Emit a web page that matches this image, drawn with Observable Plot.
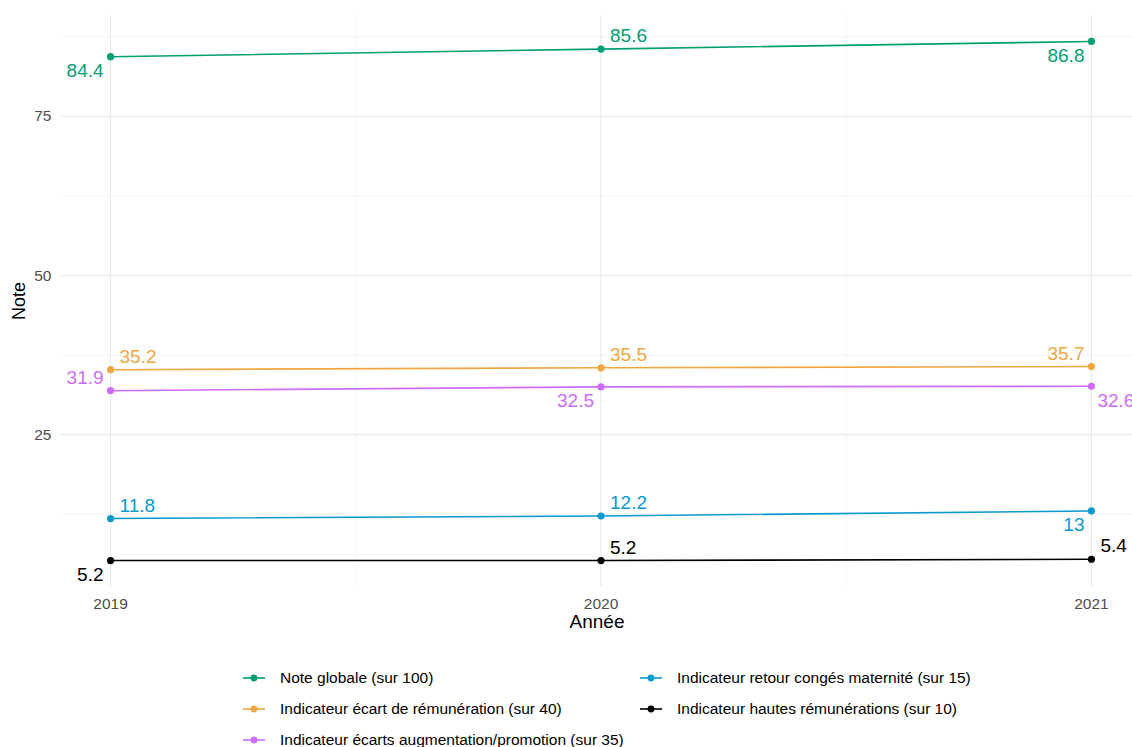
<!DOCTYPE html>
<html>
<head>
<meta charset="utf-8">
<script src="https://cdn.jsdelivr.net/npm/d3@7"></script>
<script src="https://cdn.jsdelivr.net/npm/@observablehq/plot@0.6"></script>
<style>
  html, body { margin: 0; padding: 0; background: #fff; overflow: hidden; }
  body { width: 1132px; height: 747px; font-family: "Liberation Sans", Arial, sans-serif; }
  #chart svg { display: block; overflow: hidden; }
  [aria-label="x-axis label"] text { font-size: 19px; fill: #000; }
  [aria-label="y-axis label"] text { font-size: 18px; fill: #000; }
  #legend {
    display: grid;
    grid-template-columns: 397px auto;
    grid-template-rows: 31px 31px 31px;
    grid-auto-flow: column;
    padding-left: 243px;
    padding-top: 17px;
    font-size: 15.5px;
    color: #000;
  }
  .item { display: flex; align-items: center; white-space: nowrap; }
  .item svg { margin-right: 15px; flex: none; }
</style>
</head>
<body>
<div id="chart"></div>
<div id="legend"></div>
<script>
// ---- data ----
const years = [2019, 2020, 2021];
const seriesNames = [
  "Note globale (sur 100)",
  "Indicateur écart de rémunération (sur 40)",
  "Indicateur écarts augmentation/promotion (sur 35)",
  "Indicateur retour congés maternité (sur 15)",
  "Indicateur hautes rémunérations (sur 10)"
];
const noteGlobale = [84.4, 85.6, 86.8];
const ecartRemuneration = [35.2, 35.5, 35.7];
const ecartsAugmentation = [31.9, 32.5, 32.6];
const retourConges = [11.8, 12.2, 13];
const hautesRemunerations = [5.2, 5.2, 5.4];
const yTicks = [25, 50, 75];
const yMinor = [12.5, 37.5, 62.5, 87.5];
const xMinor = [2019.5, 2020.5];

// ---- styles ----
const colors = ["#009E73", "#F0A742", "#CE6CF9", "#0A9ACD", "#000000"];
// label placement relative to its point: u = up, d = down, l = left, r = right
const labelPlacement = [
  ["dl", "ur", "dl"],
  ["ur", "ur", "ul"],
  ["ul", "dl", "dr"],
  ["ur", "ur", "dl"],
  ["dl", "ur", "ur"]
];

const values = [noteGlobale, ecartRemuneration, ecartsAugmentation, retourConges, hautesRemunerations];
const rows = [];
seriesNames.forEach((s, i) => {
  years.forEach((yr, j) => {
    rows.push({series: s, year: yr, value: values[i][j], place: labelPlacement[i][j]});
  });
});

const font = "'Liberation Sans', Arial, sans-serif";
const offsets = {
  ul: {dx: -7, dy: -13, textAnchor: "end"},
  ur: {dx: 9, dy: -13, textAnchor: "start"},
  dl: {dx: -7, dy: 14, textAnchor: "end"},
  dr: {dx: 6, dy: 15, textAnchor: "start"}
};
const textMarks = Object.entries(offsets).map(([k, o]) =>
  Plot.text(rows.filter(d => d.place === k), {
    x: "year", y: "value", text: d => String(d.value), fill: "series",
    fontSize: 19, ...o
  })
);

const chart = Plot.plot({
  width: 1132,
  height: 645,
  marginLeft: 61,
  marginRight: 0,
  marginTop: 15,
  marginBottom: 59,
  style: {fontFamily: font, background: "#fff"},
  x: {domain: [2018.9, 2021.1], range: [61, 1140]},
  y: {domain: [1.12, 90.88]},
  color: {domain: seriesNames, range: colors},
  marks: [
    Plot.gridY(yMinor, {stroke: "#EDEDED", strokeOpacity: 1, strokeWidth: 0.6}),
    Plot.gridX(xMinor, {stroke: "#EDEDED", strokeOpacity: 1, strokeWidth: 0.6}),
    Plot.gridY(yTicks, {stroke: "#E8E8E8", strokeOpacity: 1, strokeWidth: 1.1}),
    Plot.gridX(years, {stroke: "#E8E8E8", strokeOpacity: 1, strokeWidth: 1.1}),
    Plot.line(rows, {x: "year", y: "value", z: "series", stroke: "series", strokeWidth: 1.6}),
    Plot.dot(rows, {x: "year", y: "value", fill: "series", r: 3.6}),
    ...textMarks,
    Plot.axisY(yTicks, {
      tickSize: 0, tickPadding: 10, fontSize: 15.5, fill: "#4D4D4D",
      label: "Note", labelAnchor: "center", labelArrow: "none", labelOffset: 49
    }),
    Plot.axisX(years, {
      tickSize: 0, tickPadding: 11, fontSize: 15.5, fill: "#4D4D4D",
      tickFormat: d => String(d),
      label: "Année", labelAnchor: "center", labelArrow: "none", labelOffset: 41
    })
  ]
});
document.getElementById("chart").appendChild(chart);

// legend
const legend = document.getElementById("legend");
seriesNames.forEach((s, i) => {
  const item = document.createElement("div");
  item.className = "item";
  item.innerHTML = `<svg width="22" height="12"><line x1="0" x2="22" y1="6" y2="6" stroke="${colors[i]}" stroke-width="1.6"/><circle cx="11" cy="6" r="3.4" fill="${colors[i]}"/></svg><span>${s}</span>`;
  legend.appendChild(item);
});
</script>
</body>
</html>
